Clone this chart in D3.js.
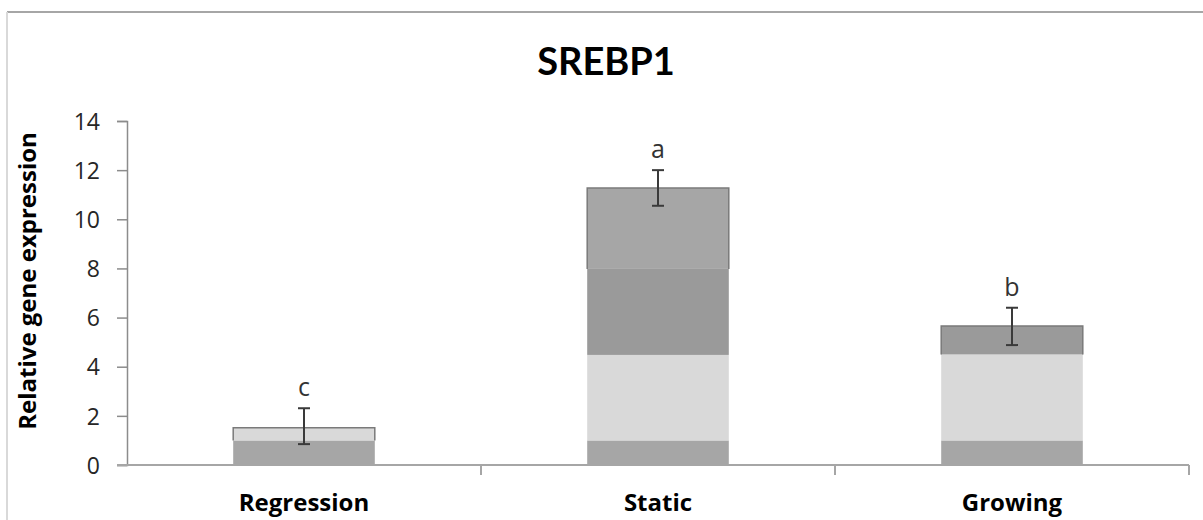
<!DOCTYPE html>
<html>
<head>
<meta charset="utf-8">
<script src="https://cdn.jsdelivr.net/npm/d3@7"></script>
<style>
  body { margin: 0; background: #fff; }
  text { font-family: "Open Sans", Lato, sans-serif; }
</style>
</head>
<body>
<div id="chart"></div>
<script>
// data
var categories = ["Regression", "Static", "Growing"];
var baseSeg  = [1.0, 1.0, 1.0];    // bottom dark band
var lightSeg = [0.52, 3.48, 3.5];  // light band
var upperSeg = [0, 3.5, 1.16];     // darker band
var topSeg   = [0, 3.29, 0];       // top band (Static only)
var errLow   = [0.85, 10.55, 4.88];
var errHigh  = [2.31, 12.0, 6.4];
var letters  = ["c", "a", "b"];
var yTicks   = [0, 2, 4, 6, 8, 10, 12, 14];

var width = 1203, height = 520;
var segColors = ["#a6a6a6", "#d9d9d9", "#9a9a9a", "#a6a6a6"];
var series = [baseSeg, lightSeg, upperSeg, topSeg];

var svg = d3.select('#chart').append('svg')
  .attr('width', width)
  .attr('height', height);

// outer frame
svg.append('line').attr('x1', 7).attr('y1', 12).attr('x2', width).attr('y2', 12)
  .style('stroke', '#a6a6a6').style('stroke-width', 2);
svg.append('line').attr('x1', 7).attr('y1', 12).attr('x2', 7).attr('y2', height)
  .style('stroke', '#d9d9d9').style('stroke-width', 2);

var y = d3.scaleLinear().domain([0, 14]).range([465, 121]);
var x = d3.scaleBand().domain(categories).range([127, 1189])
  .paddingInner(0.6).paddingOuter(0.3);

// title
svg.append('text')
  .attr('x', 606).attr('y', 75)
  .attr('text-anchor', 'middle')
  .style('font-family', 'Lato, sans-serif')
  .style('font-size', '38px').style('font-weight', 'bold')
  .style('fill', '#000')
  .text('SREBP1');

// y axis
var yAxis = svg.append('g')
  .attr('transform', 'translate(127,0)')
  .call(d3.axisLeft(y).tickValues(yTicks).tickSize(10).tickPadding(17));
yAxis.select('.domain').style('stroke', '#8c8c8c').style('stroke-width', 1.5);
yAxis.selectAll('.tick line').style('stroke', '#8c8c8c').style('stroke-width', 1.5);
yAxis.selectAll('.tick text')
  .style('font-family', '"Open Sans", sans-serif')
  .style('font-size', '23px').style('fill', '#262626')
  .attr('dy', '0.36em');

svg.append('text')
  .attr('transform', 'translate(36,' + 281 + ') rotate(-90)')
  .attr('text-anchor', 'middle')
  .style('font-size', '24px').style('font-weight', 'bold')
  .style('fill', '#000')
  .text('Relative gene expression');

// stacked bars
var stacks = categories.map(function(c, i) {
  var segs = [], acc = 0;
  for (var s = 0; s < series.length; s++) {
    var v = series[s][i];
    if (v > 0) {
      segs.push({cat: c, y0: acc, y1: acc + v, color: segColors[s]});
      acc += v;
    }
  }
  return segs;
});

stacks.forEach(function(segs) {
  var g = svg.append('g');
  g.selectAll('rect').data(segs).enter().append('rect')
    .attr('x', function(d) { return x(d.cat); })
    .attr('y', function(d) { return y(d.y1); })
    .attr('width', x.bandwidth())
    .attr('height', function(d) { return y(d.y0) - y(d.y1); })
    .style('fill', function(d) { return d.color; });
  // edge lines on the top band
  var t = segs[segs.length - 1];
  var x0 = x(t.cat), x1 = x(t.cat) + x.bandwidth();
  g.append('path')
    .attr('d', 'M' + x0 + ',' + y(t.y0) + 'V' + y(t.y1) + 'H' + x1 + 'V' + y(t.y0))
    .style('fill', 'none').style('stroke', '#7a7a7a').style('stroke-width', 1.5);
});

// x axis
svg.append('line')
  .attr('x1', 117).attr('x2', x.range()[1])
  .attr('y1', y(0)).attr('y2', y(0))
  .style('stroke', '#a6a6a6').style('stroke-width', 2);
var bounds = categories.slice(1).map(function(c) { return x(c) - x.step() * x.paddingInner() / 2; })
  .concat([x.range()[1]]);
svg.selectAll('.xtick').data(bounds).enter().append('line')
  .attr('class', 'xtick')
  .attr('x1', function(d) { return d; }).attr('x2', function(d) { return d; })
  .attr('y1', y(0)).attr('y2', y(0) + 10)
  .style('stroke', '#a6a6a6').style('stroke-width', 2);

svg.selectAll('.xlabel').data(categories).enter().append('text')
  .attr('class', 'xlabel')
  .attr('x', function(d) { return x(d) + x.bandwidth() / 2; })
  .attr('y', 511)
  .attr('text-anchor', 'middle')
  .style('font-size', '24px').style('font-weight', 'bold')
  .style('fill', '#000')
  .text(function(d) { return d; });

// error bars
categories.forEach(function(c, i) {
  var cx = x(c) + x.bandwidth() / 2;
  var g = svg.append('g').style('stroke', '#3a3a3a').style('stroke-width', 2);
  g.append('line').attr('x1', cx).attr('x2', cx).attr('y1', y(errLow[i])).attr('y2', y(errHigh[i]));
  g.append('line').attr('x1', cx - 6).attr('x2', cx + 6).attr('y1', y(errLow[i])).attr('y2', y(errLow[i]));
  g.append('line').attr('x1', cx - 6).attr('x2', cx + 6).attr('y1', y(errHigh[i])).attr('y2', y(errHigh[i]));
  svg.append('text')
    .attr('x', cx).attr('y', y(errHigh[i]) - 12)
    .attr('text-anchor', 'middle')
    .style('font-size', '25px').style('fill', '#333')
    .text(letters[i]);
});
</script>
</body>
</html>
